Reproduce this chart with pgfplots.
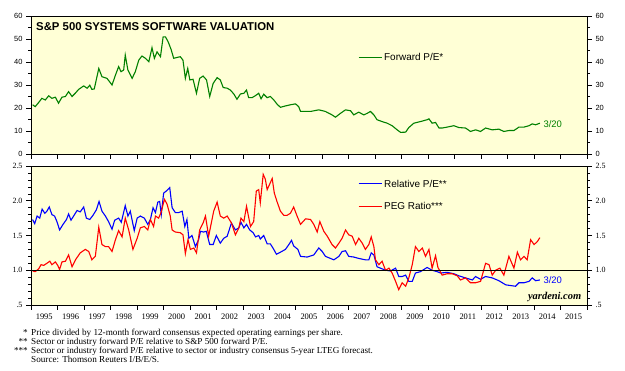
\documentclass[border=0pt]{standalone}
\usepackage{pgfplots}
\pgfplotsset{compat=1.18}
\usepackage{fontspec}
\setmainfont{Liberation Serif}
\setsansfont{Liberation Sans}
\definecolor{bgy}{RGB}{255,255,214}
\definecolor{fgreen}{RGB}{0,128,0}
\definecolor{rblue}{RGB}{0,0,255}
\definecolor{pred}{RGB}{255,0,0}
\begin{document}
\begin{tikzpicture}
\path[use as bounding box] (0bp,0bp) rectangle (625bp,371bp);
\pgfplotsset{
  panel/.style={scale only axis, width=556bp, anchor=south west,
    xmin=1995, xmax=2016, tick align=outside, xtick={1995,...,2016},
    major tick length=5bp, minor tick length=3bp,
    tick style={black, line width=0.5bp}, axis line style={line width=0.7bp},
    /pgf/number format/assume math mode=true},
}
% ---------- top panel ----------
\begin{axis}[panel, at={(31bp,217bp)}, height=138bp, ymin=0, ymax=60,
  ytick={0,10,...,60}, minor y tick num=1, ytick pos=left, xtick pos=left,
  xticklabels={}, axis background/.style={fill=bgy},
  yticklabel style={font=\sffamily\fontsize{7.5}{8}\selectfont}]
\addplot[fgreen, line width=1.1bp, forget plot] coordinates {
(1995.06,21.4)(1995.16,20.6)(1995.29,22.4)(1995.41,24.2)(1995.54,23.5)(1995.67,25.3)
(1995.79,24.2)(1995.92,24.7)(1996.04,22.1)(1996.17,24.7)(1996.30,25.0)(1996.42,27.1)
(1996.55,25.0)(1996.67,26.4)(1996.80,28.1)(1996.99,29.6)(1997.12,28.6)(1997.22,29.9)
(1997.30,28.1)(1997.39,28.3)(1997.56,37.2)(1997.68,33.6)(1997.87,32.9)(1998.06,30.0)
(1998.19,34.3)(1998.31,38.0)(1998.40,35.8)(1998.50,36.5)(1998.56,43.0)(1998.66,36.5)
(1998.82,32.9)(1998.94,35.8)(1999.07,40.8)(1999.19,42.6)(1999.32,41.6)(1999.45,40.1)
(1999.57,46.2)(1999.66,41.6)(1999.76,44.4)(1999.89,42.3)(1999.99,50.9)(2000.08,50.9)
(2000.18,48.8)(2000.29,45.5)(2000.39,41.6)(2000.52,42.0)(2000.64,42.3)(2000.74,40.8)
(2000.83,32.9)(2000.92,37.2)(2001.00,32.2)(2001.12,32.5)(2001.25,26.4)(2001.37,32.9)
(2001.50,33.9)(2001.63,32.2)(2001.75,25.0)(2001.88,30.7)(2002.03,33.2)(2002.15,32.2)
(2002.26,28.9)(2002.41,28.6)(2002.53,27.8)(2002.66,26.1)(2002.78,23.8)(2002.91,26.1)
(2003.04,26.4)(2003.14,27.8)(2003.22,24.5)(2003.35,24.5)(2003.48,25.4)(2003.60,26.4)
(2003.69,24.0)(2003.79,26.0)(2003.92,24.5)(2004.04,25.0)(2004.17,23.5)(2004.30,21.6)
(2004.42,20.3)(2004.61,20.9)(2004.80,21.4)(2004.99,21.8)(2005.11,20.6)(2005.18,18.5)
(2005.56,18.5)(2005.87,19.2)(2006.12,18.5)(2006.37,17.0)(2006.50,16.0)(2006.69,17.7)
(2006.88,19.2)(2007.07,18.8)(2007.19,17.0)(2007.38,18.2)(2007.57,17.0)(2007.70,17.7)
(2007.82,18.5)(2007.95,17.0)(2008.07,14.9)(2008.26,14.1)(2008.45,13.4)(2008.64,12.3)
(2008.83,10.5)(2008.96,9.4)(2009.15,9.5)(2009.27,11.5)(2009.46,13.4)(2009.71,14.1)
(2009.96,14.9)(2010.03,15.3)(2010.15,13.4)(2010.28,13.7)(2010.41,11.3)(2010.53,11.3)
(2010.72,11.7)(2010.97,12.3)(2011.16,11.5)(2011.41,11.3)(2011.60,9.8)(2011.79,10.5)
(2011.98,9.8)(2012.17,11.3)(2012.42,10.5)(2012.67,10.8)(2012.86,9.8)(2013.05,10.2)
(2013.24,10.2)(2013.43,11.7)(2013.62,11.7)(2013.81,12.3)(2013.93,13.1)(2014.06,12.7)
(2014.22,13.4)};
% legend sample
\addplot[fgreen, line width=1.2bp, forget plot] coordinates {(2007.37,42.1)(2008.24,42.1)};
\node[anchor=west, font=\sffamily\fontsize{10}{11}\selectfont, inner sep=0pt, text=black] at (axis cs:2008.33,42.1) {Forward P/E*};
\node[anchor=west, text=fgreen, font=\sffamily\fontsize{9.5}{10}\selectfont, inner sep=0pt] at (axis cs:2014.35,13.0) {3/20};
\node[anchor=north west, text=black, font=\sffamily\bfseries\fontsize{11.4}{12}\selectfont, inner sep=0pt] at (rel axis cs:0.009,0.955) {S\&P 500 SYSTEMS SOFTWARE VALUATION};
\end{axis}
\begin{axis}[panel, at={(31bp,217bp)}, height=138bp, ymin=0, ymax=60,
  ytick={0,10,...,60}, minor y tick num=1, axis y line*=right, axis x line=none,
  yticklabel style={font=\sffamily\fontsize{7.5}{8}\selectfont}]
\end{axis}
% ---------- bottom panel ----------
\begin{axis}[panel, at={(31bp,66bp)}, height=139bp, ymin=0.5, ymax=2.5,
  ytick={0.5,1.0,1.5,2.0,2.5}, yticklabels={.5,1.0,1.5,2.0,2.5},
  minor y tick num=4, ytick pos=left, xtick pos=left,
  x tick label as interval,
  xticklabels={1995,1996,1997,1998,1999,2000,2001,2002,2003,2004,2005,2006,2007,2008,2009,2010,2011,2012,2013,2014,2015},
  xticklabel style={font=\rmfamily\fontsize{8.5}{9}\selectfont},
  axis background/.style={fill=bgy},
  yticklabel style={font=\rmfamily\fontsize{8}{9}\selectfont}]
\addplot[rblue, line width=1.1bp, forget plot] coordinates {
(1995.06,1.73)(1995.14,1.67)(1995.23,1.78)(1995.33,1.75)(1995.42,1.88)(1995.52,1.82)
(1995.60,1.85)(1995.69,1.91)(1995.79,1.80)(1995.89,1.78)(1995.98,1.70)(1996.08,1.58)
(1996.21,1.66)(1996.34,1.73)(1996.42,1.81)(1996.51,1.72)(1996.61,1.78)(1996.74,1.86)
(1996.86,1.84)(1996.99,1.91)(1997.09,1.75)(1997.22,1.73)(1997.34,1.79)(1997.47,1.87)
(1997.57,1.99)(1997.68,1.85)(1997.81,1.78)(1997.93,1.70)(1998.06,1.59)(1998.16,1.72)
(1998.31,1.75)(1998.41,1.69)(1998.56,1.93)(1998.66,1.78)(1998.75,1.85)(1998.90,1.57)
(1999.01,1.75)(1999.13,1.78)(1999.28,1.75)(1999.41,1.66)(1999.51,1.73)(1999.61,1.90)
(1999.70,1.83)(1999.79,1.98)(1999.86,1.99)(1999.92,1.80)(2000.01,2.11)(2000.11,2.14)
(2000.24,2.19)(2000.33,1.90)(2000.45,1.83)(2000.58,1.83)(2000.71,1.85)(2000.81,1.63)
(2000.89,1.73)(2000.96,1.46)(2001.08,1.50)(2001.21,1.34)(2001.33,1.44)(2001.40,1.56)
(2001.52,1.55)(2001.62,1.56)(2001.75,1.37)(2001.88,1.37)(2002.00,1.50)(2002.15,1.39)
(2002.28,1.46)(2002.41,1.49)(2002.57,1.68)(2002.72,1.58)(2002.85,1.61)(2002.93,1.69)
(2003.04,1.61)(2003.14,1.66)(2003.26,1.58)(2003.39,1.54)(2003.48,1.48)(2003.60,1.50)
(2003.66,1.45)(2003.79,1.50)(2003.92,1.38)(2004.04,1.38)(2004.17,1.30)(2004.27,1.23)
(2004.42,1.26)(2004.61,1.30)(2004.74,1.37)(2004.84,1.43)(2004.92,1.35)(2005.08,1.30)
(2005.18,1.20)(2005.43,1.19)(2005.68,1.22)(2005.87,1.32)(2006.00,1.27)(2006.12,1.20)
(2006.31,1.17)(2006.44,1.15)(2006.63,1.20)(2006.75,1.27)(2006.88,1.28)(2007.00,1.20)
(2007.19,1.19)(2007.38,1.17)(2007.63,1.15)(2007.76,1.15)(2007.85,1.25)(2007.95,1.22)
(2008.07,1.05)(2008.20,1.03)(2008.39,1.00)(2008.58,0.99)(2008.77,1.03)(2008.89,0.91)
(2009.02,0.91)(2009.15,0.93)(2009.27,0.84)(2009.40,0.84)(2009.52,0.96)(2009.71,0.98)
(2009.96,1.04)(2010.15,1.00)(2010.34,0.98)(2010.47,0.96)(2010.72,0.97)(2010.97,0.95)
(2011.16,0.92)(2011.41,0.89)(2011.67,0.86)(2011.79,0.91)(2011.98,0.87)(2012.17,0.91)
(2012.42,0.89)(2012.67,0.85)(2012.93,0.79)(2013.11,0.78)(2013.30,0.77)(2013.43,0.82)
(2013.62,0.82)(2013.81,0.84)(2013.93,0.89)(2014.06,0.85)(2014.22,0.86)};
\addplot[pred, line width=1.1bp, forget plot] coordinates {
(1995.06,0.99)(1995.16,0.98)(1995.29,1.02)(1995.38,1.08)(1995.48,1.07)(1995.60,1.10)
(1995.71,1.13)(1995.79,1.08)(1995.92,1.12)(1996.01,1.07)(1996.08,1.01)(1996.17,1.12)
(1996.30,1.13)(1996.42,1.22)(1996.55,1.05)(1996.68,1.15)(1996.86,1.25)(1997.05,1.30)
(1997.18,1.27)(1997.30,1.15)(1997.43,1.20)(1997.56,1.62)(1997.68,1.37)(1997.81,1.34)
(1997.93,1.34)(1998.06,1.27)(1998.19,1.44)(1998.31,1.57)(1998.44,1.48)(1998.56,1.75)
(1998.69,1.58)(1998.85,1.30)(1999.01,1.46)(1999.13,1.61)(1999.28,1.63)(1999.41,1.58)
(1999.51,1.73)(1999.63,1.63)(1999.70,1.78)(1999.82,1.75)(1999.91,1.83)(2000.04,2.02)
(2000.14,1.95)(2000.26,1.78)(2000.33,1.58)(2000.45,1.55)(2000.64,1.54)(2000.74,1.51)
(2000.83,1.24)(2000.93,1.44)(2001.02,1.30)(2001.15,1.32)(2001.25,1.25)(2001.37,1.58)
(2001.50,1.68)(2001.59,1.78)(2001.71,1.49)(2001.90,1.85)(2002.03,1.98)(2002.15,1.78)
(2002.28,1.75)(2002.41,1.78)(2002.57,1.68)(2002.72,1.51)(2002.85,1.61)(2002.93,1.75)
(2003.04,1.70)(2003.14,1.92)(2003.29,1.63)(2003.41,1.70)(2003.51,2.14)(2003.60,2.16)
(2003.66,1.97)(2003.77,2.38)(2003.85,2.31)(2003.92,2.16)(2004.04,2.26)(2004.11,2.32)
(2004.19,2.11)(2004.29,1.99)(2004.42,1.85)(2004.55,1.79)(2004.67,1.79)(2004.80,1.82)
(2004.92,1.91)(2005.05,1.78)(2005.18,1.66)(2005.37,1.74)(2005.56,1.73)(2005.68,1.66)
(2005.81,1.55)(2005.91,1.70)(2006.06,1.56)(2006.19,1.49)(2006.37,1.37)(2006.50,1.32)
(2006.63,1.39)(2006.75,1.46)(2006.88,1.58)(2007.00,1.51)(2007.13,1.49)(2007.26,1.37)
(2007.38,1.46)(2007.51,1.39)(2007.63,1.30)(2007.76,1.37)(2007.85,1.48)(2007.95,1.34)
(2008.01,1.15)(2008.14,1.08)(2008.26,1.13)(2008.39,1.00)(2008.52,1.03)(2008.64,0.96)
(2008.77,0.84)(2008.89,0.72)(2009.02,0.82)(2009.15,0.77)(2009.27,0.89)(2009.40,1.08)
(2009.52,1.34)(2009.65,1.27)(2009.78,1.32)(2009.90,1.20)(2010.03,1.30)(2010.15,1.03)
(2010.28,1.21)(2010.37,1.04)(2010.53,0.93)(2010.72,0.95)(2010.91,0.95)(2011.10,0.92)
(2011.22,0.86)(2011.41,0.89)(2011.60,0.82)(2011.79,0.82)(2011.98,0.84)(2012.17,1.10)
(2012.30,1.08)(2012.42,0.93)(2012.55,1.00)(2012.71,1.03)(2012.86,0.93)(2013.05,1.20)
(2013.24,1.03)(2013.37,1.26)(2013.49,1.15)(2013.62,1.20)(2013.74,1.15)(2013.87,1.44)
(2014.00,1.37)(2014.12,1.41)(2014.22,1.47)};
\addplot[black, line width=0.8bp, forget plot] coordinates {(1995,1) (2016,1)};
% legend samples
\addplot[rblue, line width=1.2bp, forget plot] coordinates {(2007.37,2.246)(2008.24,2.246)};
\addplot[pred, line width=1.2bp, forget plot] coordinates {(2007.37,1.922)(2008.24,1.922)};
\node[anchor=west, text=black, font=\sffamily\fontsize{10}{11}\selectfont, inner sep=0pt] at (axis cs:2008.33,2.246) {Relative P/E**};
\node[anchor=west, text=black, font=\sffamily\fontsize{10}{11}\selectfont, inner sep=0pt] at (axis cs:2008.33,1.922) {PEG Ratio***};
\node[anchor=west, text=rblue, font=\sffamily\fontsize{9.5}{10}\selectfont, inner sep=0pt] at (axis cs:2014.35,0.86) {3/20};
\node[anchor=south east, text=black, font=\rmfamily\bfseries\itshape\fontsize{10.5}{11}\selectfont, inner sep=0pt] at (rel axis cs:0.99,0.025) {yardeni.com};
\end{axis}
\begin{axis}[panel, at={(31bp,66bp)}, height=139bp, ymin=0.5, ymax=2.5,
  ytick={0.5,1.0,1.5,2.0,2.5}, yticklabels={.5,1.0,1.5,2.0,2.5},
  minor y tick num=4, axis y line*=right, axis x line=none,
  yticklabel style={font=\rmfamily\fontsize{8}{9}\selectfont}]
\end{axis}
% ---------- footnotes ----------
\begin{scope}[every node/.style={inner sep=0pt, text=black, font=\rmfamily\fontsize{9.2}{10}\selectfont}]
\node[anchor=base east] at (28bp,36bp) {*};
\node[anchor=base west] at (31bp,36bp) {Price divided by 12-month forward consensus expected operating earnings per share.};
\node[anchor=base east] at (28bp,27bp) {**};
\node[anchor=base west] at (31bp,27bp) {Sector or industry forward P/E relative to S\&P 500 forward P/E.};
\node[anchor=base east] at (28bp,18bp) {***};
\node[anchor=base west] at (31bp,18bp) {Sector or industry forward P/E relative to sector or industry consensus 5-year LTEG forecast.};
\node[anchor=base west] at (31bp,9bp) {Source: Thomson Reuters I/B/E/S.};
\end{scope}
\end{tikzpicture}
\end{document}
